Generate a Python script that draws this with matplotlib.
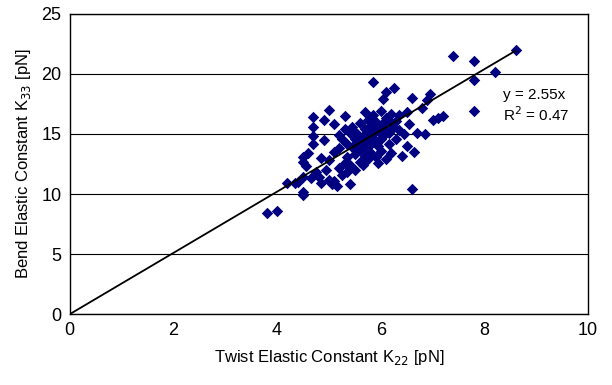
import numpy as np
import matplotlib
matplotlib.use("Agg")
import matplotlib.pyplot as plt

# twist (K22) and bend (K33) elastic constants, pN
k22 = [3.8, 4.0, 4.2, 4.35, 4.4, 4.5, 4.5, 4.5, 4.5, 4.5,
       4.55, 4.6, 4.65, 4.7, 4.7, 4.7, 4.7, 4.75, 4.8, 4.85,
       4.9, 4.9, 4.95, 5.0, 5.0, 5.0, 5.05, 5.1, 5.1, 5.1,
       5.15, 5.2, 5.2, 5.25, 5.25, 5.3, 5.3, 5.35, 5.35, 5.4,
       5.4, 5.4, 5.45, 5.45, 5.5, 5.5, 5.5, 5.55, 5.55, 5.6,
       5.6, 5.6, 5.65, 5.65, 5.7, 5.7, 5.7, 5.75, 5.75, 5.75,
       5.8, 5.8, 5.8, 5.85, 5.85, 5.85, 5.9, 5.9, 5.9, 5.95,
       5.95, 6.0, 6.0, 6.0, 6.05, 6.05, 6.1, 6.1, 6.1, 6.15,
       6.15, 6.2, 6.2, 6.25, 6.25, 6.3, 6.3, 6.35, 6.4, 6.45,
       6.5, 6.5, 6.55, 6.6, 6.6, 6.65, 6.7, 6.8, 6.85, 6.9,
       6.95, 7.0, 7.1, 7.2, 7.4, 7.8, 7.8, 7.8, 8.2, 8.6,
       5.5, 5.6, 5.7, 5.8, 5.9, 6.0, 6.05, 6.1, 5.2, 5.3,
       4.85, 5.35, 5.65, 5.95, 6.2, 6.35]
k33 = [8.4, 8.6, 10.9, 10.9, 11.0, 9.9, 10.2, 11.4, 12.7, 13.1,
       12.3, 13.4, 11.3, 14.2, 14.8, 15.6, 16.4, 11.8, 11.4, 10.9,
       14.5, 16.2, 12.0, 17.0, 12.8, 11.2, 10.8, 15.8, 13.5, 11.1,
       10.7, 13.8, 12.2, 14.6, 11.6, 16.5, 12.6, 14.2, 13.1, 15.1,
       10.8, 12.4, 13.9, 15.6, 14.6, 13.3, 12.0, 15.0, 14.0, 15.9,
       13.7, 12.7, 14.8, 14.3, 16.8, 15.4, 13.2, 16.2, 14.6, 12.9,
       15.7, 14.1, 13.5, 19.3, 16.6, 15.0, 14.4, 13.1, 16.0, 15.3,
       14.0, 16.9, 15.5, 13.6, 17.9, 14.8, 18.5, 16.3, 12.9, 15.1,
       14.2, 16.7, 13.4, 18.8, 15.6, 16.1, 14.6, 16.6, 13.2, 15.0,
       16.8, 14.0, 15.8, 18.0, 10.4, 13.5, 15.1, 17.2, 15.0, 17.8,
       18.3, 16.2, 16.3, 16.5, 21.5, 21.1, 19.5, 16.9, 20.2, 22.0,
       15.2, 14.5, 14.0, 15.2, 15.6, 14.6, 15.9, 15.3, 14.9, 15.4,
       13.0, 11.8, 12.4, 12.6, 15.9, 15.3]

slope = 2.55
r2 = 0.47

plt.rcParams['font.family'] = ['Liberation Sans', 'DejaVu Sans']

fig = plt.figure(figsize=(6.12, 3.85), dpi=100)
ax = fig.add_axes([0.114, 0.184, 0.847, 0.78])

ax.scatter(k22, k33, marker='D', s=34, color='#000080', linewidths=0, zorder=3)

xl = np.array([0, max(k22)])
ax.plot(xl, slope * xl, color='black', lw=1.3, zorder=4)

ax.set_xlim(0, 10)
ax.set_ylim(0, 25)
ax.set_xticks(np.arange(0, 11, 2))
ax.set_yticks(np.arange(0, 26, 5))
ax.yaxis.grid(True, color='black', lw=0.8)
ax.set_axisbelow(True)
ax.tick_params(labelsize=13, length=0, pad=6)
for s in ax.spines.values():
    s.set_linewidth(1.0)

ax.set_xlabel('Twist Elastic Constant K$_{22}$ [pN]', fontsize=12, labelpad=6)
ax.set_ylabel('Bend Elastic Constant K$_{33}$ [pN]', fontsize=12, labelpad=6)

ax.text(8.35, 18.25, 'y = %.2fx' % slope, fontsize=11, va='center')
ax.text(8.35, 16.6, 'R$^2$ = %.2f' % r2, fontsize=11, va='center')

fig.savefig('out.png', dpi=100)
